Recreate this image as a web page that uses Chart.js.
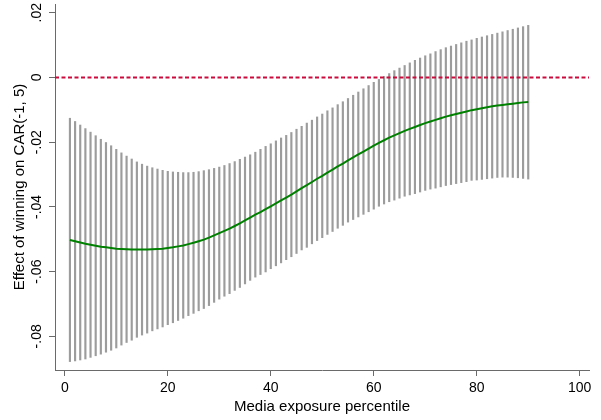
<!DOCTYPE html>
<html>
<head>
<meta charset="utf-8">
<script src="https://cdn.jsdelivr.net/npm/chart.js@4"></script>
<style>
    body { margin: 0; background: #fff; }
    #wrap { width: 601px; height: 420px; }
</style>
</head>
<body>
<div id="wrap"><canvas id="chart" width="601" height="420"></canvas></div>
<script>
// media exposure percentile (x)
const percentiles = [1,2,3,4,5,6,7,8,9,10,11,12,13,14,15,16,17,18,19,20,
    21,22,23,24,25,26,27,28,29,30,31,32,33,34,35,36,37,38,39,40,
    41,42,43,44,45,46,47,48,49,50,51,52,53,54,55,56,57,58,59,60,
    61,62,63,64,65,66,67,68,69,70,71,72,73,74,75,76,77,78,79,80,
    81,82,83,84,85,86,87,88,89,90];

// point estimate of the effect (green line)
const effect = [-0.0502,-0.0506,-0.0510,-0.0514,-0.0517,-0.0520,-0.0523,-0.0525,-0.0527,-0.0529,
    -0.0530,-0.0531,-0.0532,-0.0532,-0.0532,-0.0532,-0.0531,-0.0530,-0.0529,-0.0527,
    -0.0525,-0.0522,-0.0519,-0.0515,-0.0511,-0.0506,-0.0501,-0.0495,-0.0488,-0.0481,
    -0.0474,-0.0467,-0.0459,-0.0451,-0.0442,-0.0433,-0.0424,-0.0416,-0.0407,-0.0398,
    -0.0389,-0.0380,-0.0371,-0.0362,-0.0352,-0.0342,-0.0333,-0.0323,-0.0313,-0.0304,
    -0.0294,-0.0285,-0.0275,-0.0266,-0.0256,-0.0247,-0.0238,-0.0229,-0.0220,-0.0211,
    -0.0202,-0.0194,-0.0186,-0.0179,-0.0172,-0.0165,-0.0159,-0.0153,-0.0147,-0.0141,
    -0.0136,-0.0131,-0.0126,-0.0121,-0.0117,-0.0113,-0.0109,-0.0105,-0.0101,-0.0098,
    -0.0095,-0.0092,-0.0089,-0.0087,-0.0085,-0.0083,-0.0081,-0.0079,-0.0077,-0.0076];

// confidence interval, upper end
const ciUpper = [-0.0126,-0.0136,-0.0147,-0.0158,-0.0169,-0.0180,-0.0191,-0.0201,-0.0211,-0.0222,
    -0.0233,-0.0243,-0.0252,-0.0261,-0.0268,-0.0274,-0.0279,-0.0283,-0.0287,-0.0290,
    -0.0292,-0.0293,-0.0294,-0.0294,-0.0293,-0.0291,-0.0288,-0.0285,-0.0281,-0.0277,
    -0.0272,-0.0266,-0.0260,-0.0253,-0.0246,-0.0239,-0.0231,-0.0222,-0.0213,-0.0205,
    -0.0196,-0.0187,-0.0179,-0.0170,-0.0160,-0.0151,-0.0141,-0.0132,-0.0122,-0.0113,
    -0.0103,-0.0094,-0.0084,-0.0075,-0.0065,-0.0055,-0.0045,-0.0035,-0.0025,-0.0015,
    -0.0006,0.0003,0.0012,0.0021,0.0029,0.0037,0.0045,0.0053,0.0060,0.0067,
    0.0073,0.0080,0.0086,0.0092,0.0097,0.0102,0.0107,0.0112,0.0116,0.0121,
    0.0125,0.0129,0.0133,0.0137,0.0141,0.0145,0.0149,0.0153,0.0157,0.0161];

// confidence interval, lower end
const ciLower = [-0.0878,-0.0876,-0.0873,-0.0870,-0.0865,-0.0860,-0.0855,-0.0849,-0.0843,-0.0836,
    -0.0827,-0.0819,-0.0812,-0.0803,-0.0796,-0.0790,-0.0783,-0.0777,-0.0771,-0.0764,
    -0.0758,-0.0751,-0.0744,-0.0736,-0.0729,-0.0721,-0.0714,-0.0705,-0.0695,-0.0685,
    -0.0676,-0.0668,-0.0658,-0.0649,-0.0638,-0.0627,-0.0617,-0.0609,-0.0601,-0.0591,
    -0.0582,-0.0573,-0.0563,-0.0554,-0.0544,-0.0533,-0.0525,-0.0514,-0.0504,-0.0495,
    -0.0485,-0.0476,-0.0466,-0.0457,-0.0447,-0.0439,-0.0431,-0.0423,-0.0415,-0.0407,
    -0.0398,-0.0391,-0.0384,-0.0379,-0.0373,-0.0367,-0.0363,-0.0359,-0.0354,-0.0349,
    -0.0345,-0.0342,-0.0338,-0.0334,-0.0331,-0.0328,-0.0325,-0.0322,-0.0318,-0.0317,
    -0.0315,-0.0313,-0.0311,-0.0309,-0.0308,-0.0308,-0.0309,-0.0310,-0.0312,-0.0314];

const refLine = 0;
const xTicks = [0, 20, 40, 60, 80, 100];
const yTicks = [0.02, 0, -0.02, -0.04, -0.06, -0.08];
const yTickLabels = ['.02', '0', '-.02', '-.04', '-.06', '-.08'];

const X_MIN = -1.9, X_MAX = 101.8;
const Y_MIN = -0.0904, Y_MAX = 0.0227;
const FONT = "'Liberation Sans', Arial, sans-serif";
const AXIS_GRAY = '#6a6a6a';

const ctx = document.getElementById('chart').getContext('2d');
new Chart(ctx, {
    type: 'line',
    data: {
        datasets: [
            {
                type: 'line',
                data: percentiles.map((p, i) => ({ x: p, y: effect[i] })),
                borderColor: '#008000',
                borderWidth: 2,
                pointRadius: 0,
                tension: 0,
                order: 0
            },
            {
                type: 'line',
                data: [{ x: X_MIN, y: refLine }, { x: X_MAX, y: refLine }],
                borderColor: '#cc0a3c',
                borderWidth: 2,
                borderDash: [4, 2.5],
                pointRadius: 0,
                order: 1
            },
            {
                type: 'bar',
                data: percentiles.map((p, i) => ({ x: p, y: [ciLower[i], ciUpper[i]] })),
                backgroundColor: '#9c9c9c',
                borderWidth: 0,
                barThickness: 1.5,
                grouped: false,
                order: 2
            }
        ]
    },
    options: {
        responsive: false,
        animation: false,
        events: [],
        layout: { padding: { left: 0, right: 12, top: 4, bottom: 0 } },
        plugins: { legend: { display: false }, tooltip: { enabled: false } },
        scales: {
            x: {
                type: 'linear',
                min: X_MIN,
                max: X_MAX,
                offset: false,
                afterBuildTicks: function(scale) {
                    scale.ticks = xTicks.map(v => ({ value: v }));
                },
                afterFit: function(scale) {
                    scale.height = 50;
                    scale.paddingLeft = 0;
                    scale.paddingRight = 0;
                },
                grid: { display: true, drawOnChartArea: false, drawTicks: true, tickLength: 6, color: AXIS_GRAY, offset: false },
                border: { display: true, color: AXIS_GRAY, width: 1 },
                ticks: {
                    color: '#000',
                    font: { family: FONT, size: 14 },
                    padding: 4,
                    maxRotation: 0,
                    minRotation: 0,
                    autoSkip: false,
                    callback: function(value) { return String(value); }
                },
                title: {
                    display: true,
                    text: 'Media exposure percentile',
                    color: '#000',
                    font: { family: FONT, size: 15 },
                    padding: { top: 0, bottom: 4 }
                }
            },
            y: {
                type: 'linear',
                min: Y_MIN,
                max: Y_MAX,
                afterBuildTicks: function(scale) {
                    scale.ticks = yTicks.map(v => ({ value: v }));
                },
                afterFit: function(scale) {
                    scale.width = 55;
                    scale.paddingTop = 0;
                    scale.paddingBottom = 0;
                },
                grid: { display: true, drawOnChartArea: false, drawTicks: true, tickLength: 6, color: AXIS_GRAY },
                border: { display: true, color: AXIS_GRAY, width: 1 },
                ticks: {
                    color: '#000',
                    font: { family: FONT, size: 14 },
                    minRotation: 90,
                    maxRotation: 90,
                    crossAlign: 'center',
                    padding: 0,
                    autoSkip: false,
                    callback: function(value) {
                        const idx = yTicks.findIndex(t => Math.abs(t - value) < 1e-9);
                        return idx >= 0 ? yTickLabels[idx] : '';
                    }
                },
                title: {
                    display: true,
                    text: 'Effect of winning on CAR(-1, 5)',
                    color: '#000',
                    font: { family: FONT, size: 15 },
                    padding: { top: 11, bottom: 0 }
                }
            }
        }
    }
});
</script>
</body>
</html>
